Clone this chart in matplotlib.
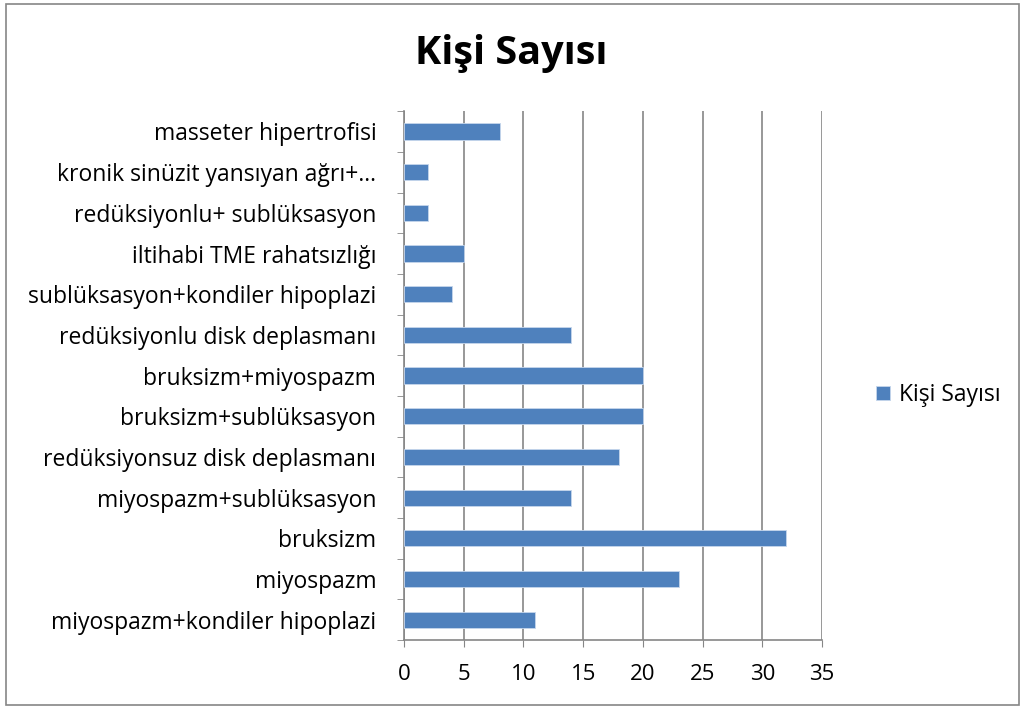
import matplotlib.pyplot as plt
import numpy as np

plt.rcParams['font.family'] = ['Open Sans', 'DejaVu Sans']

# categories listed bottom to top, as in the chart
categories = [
    'miyospazm+kondiler hipoplazi',
    'miyospazm',
    'bruksizm',
    'miyospazm+sublüksasyon',
    'redüksiyonsuz disk deplasmanı',
    'bruksizm+sublüksasyon',
    'bruksizm+miyospazm',
    'redüksiyonlu disk deplasmanı',
    'sublüksasyon+kondiler hipoplazi',
    'iltihabi TME rahatsızlığı',
    'redüksiyonlu+ sublüksasyon',
    'kronik sinüzit yansıyan ağrı+...',
    'masseter hipertrofisi',
]
values = [11, 23, 32, 14, 18, 20, 20, 14, 4, 5, 2, 2, 8]
series_name = 'Kişi Sayısı'
xticks = [0, 5, 10, 15, 20, 25, 30, 35]

fig = plt.figure(figsize=(10.23, 7.08), dpi=100)
ax = fig.add_axes([0.395, 0.096, 0.4085, 0.747])

pos = np.arange(len(categories))
ax.barh(pos, values, height=0.4, color='#4f81bd', edgecolor='#c6d6ec',
        linewidth=0.6, label=series_name, zorder=3)

ax.set_xlim(0, 35)
ax.set_ylim(-0.5, len(categories) - 0.5)
ax.set_xticks(xticks)
ax.set_xticklabels([str(t) for t in xticks], fontsize=16)
ax.set_yticks(pos)
ax.set_yticklabels(categories, fontsize=16.5)
ax.tick_params(axis='y', length=0, pad=20)
ax.tick_params(axis='x', length=5, color='#868686', pad=12)

# category boundary tick marks on the y axis
ax.set_yticks(np.arange(len(categories) + 1) - 0.5, minor=True)
ax.tick_params(axis='y', which='minor', length=5, color='#868686')

ax.grid(axis='x', color='#868686', linewidth=1.2, zorder=0)
for s in ['top', 'right']:
    ax.spines[s].set_visible(False)
for s in ['left', 'bottom']:
    ax.spines[s].set_color('#868686')
    ax.spines[s].set_linewidth(1.2)

fig.text(0.5, 0.925, series_name, ha='center', va='center',
         fontsize=28.5, fontweight='bold')

ax.legend(loc='center left', bbox_to_anchor=(1.08, 0.463), frameon=False,
          fontsize=16.5, handlelength=0.6, handleheight=0.6, handletextpad=0.4)

# outer chart border
fig.patches.append(plt.Rectangle((0.006, 0.004), 0.99, 0.99, transform=fig.transFigure,
                                 fill=False, edgecolor='#868686', linewidth=1.2))

fig.savefig('out.png', dpi=100)
